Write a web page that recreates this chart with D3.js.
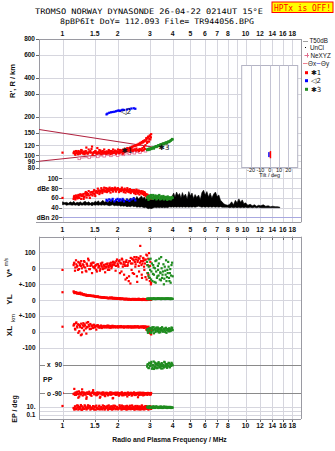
<!DOCTYPE html>
<html><head><meta charset="utf-8">
<script src="https://cdn.jsdelivr.net/npm/d3@7"></script>
<style>body{margin:0;background:#fff}svg{display:block}text{font-family:"Liberation Sans",Arial,sans-serif}</style>
</head><body>
<svg id="c" width="335" height="451"></svg>
<script>
// ---------- tick labels ----------
const freqTicksTop = [1,1.5,2,3,4,5,6,7,8,10,12,14,16,18];
const freqTicksMid = [1,1.5,2,3,4,5,6,7,8,9,10,12,14,16,18];
const freqTicksBot = [1,1.5,2,3,4,5,6,7,8,10,12,14,16,18];
const heightTicks = [800,600,400,300,200,150,120,100,90,80];
const dbTicks = [100,80,60,40,20];
const dbTickLabels = ["100","dBe 80","60","40","dBn 20"];
const tiltTicks = [-20,-10,0,10,20];
const tiltLines = [-20,-10,0,10,20];

// ---------- echo class 1 (red), first sweep ----------
const redF = [1.00,1.15,1.16,1.17,1.19,1.20,1.22,1.23,1.25,1.26,1.28,1.30,1.31,1.33,1.35,1.36,1.38,1.40,1.42,1.43,1.45,1.47,1.48,1.50,1.52,1.53,1.55,1.57,1.58,1.60,1.62,1.64,1.66,1.68,1.70,1.72,1.74,1.76,1.78,1.80,1.82,1.84,1.86,1.88,1.90,1.92,1.95,1.97,2.00,2.02,2.05,2.07,2.10,2.12,2.15,2.17,2.20,2.22,2.25,2.27,2.30,2.32,2.35,2.37,2.40,2.42,2.45,2.47,2.50,2.52,2.55,2.57,2.60,2.62,2.65,2.67,2.70,2.72,2.75,2.77,2.80,2.82,2.85,2.88,2.90,2.92,2.95,2.97,3.00,3.02,3.05];
const redH = [105,104,107,103,106,104,108,105,104,106, 105,103,107,104,115,105,104,106,108,105, 117,104,106,105,107,104,114,106,105,104, 107,105,108,104,106,105,107,104,106,105, 108,106,104,107,105,106,108,105,107,106, 108,105,109,107,110,106,111,108,112,109, 113,109,115,110,116,108,118,111,119,109, 120,110,121,108,122,111,124,109,126,110, 128,112,130,134,125,137,140,128,143,133,146];
const redA = [60,58,64,60,63,61,66,60,65,67, 64,68,62,69,66,70,68,65,71,67, 72,69,73,68,72,74,70,73,75,71, 74,76,73,77,75,74,77,76,78,75, 77,78,76,79,77,78,76,79,77,78, 76,77,78,76,77,75,77,76,74,76, 75,77,74,76,73,75,74,76,72,74, 73,75,72,74,73,72,74,71,73,70, 72,70,68,66,67,65,64,62,63,61,60];
const redV = [-10,20,35,-15,25,10,40,-5,30,15, -25,20,45,5,-20,25,60,-5,15,30, -30,10,35,0,20,-10,25,5,15,-15, 30,10,-5,20,0,25,5,30,15,-10, 20,35,10,25,40,20,-15,45,30,10, 50,35,-20,55,25,-40,15,40,-60,20, -80,45,-95,30,60,-30,50,70,10,55, -50,40,65,-20,35,75,20,-60,45,60, -10,30,55,-70,80,20,-40,95,-80,40,-90];
const redYL = [50,55,45,50,48,42,44,40,47,38, 40,35,37,33,30,28,32,30,27,29, 26,25,28,24,22,23,20,21,19,20, 18,17,18,15,16,14,15,13,12,13, 16,14,17,13,15,12,14,11,13,10, 12,9,11,8,10,7,9,6,8,5, 7,4,6,3,5,8,4,6,2,5, 3,7,4,2,6,3,5,1,4,6, 2,5,3,7,1,4,6,2,5,3,4];
const redXL = [33,40,50,20,60,35,-5,45,30,-20, 25,55,10,40,-10,30,62,35,50,20, 40,25,45,30,38,15,42,30,35,28, 40,25,33,38,30,36,28,34,40,30, 35,27,33,38,30,35,28,32,36,30, 34,29,33,31,35,28,32,30,34,29, 33,31,35,28,32,30,34,29,33,31, 35,30,34,29,32,30,33,31,35,29, 33,30,34,28,32,30,33,10,-5,20,-15];
const redPP = [-88,-95,-62,-100,-85,-92,-118,-78,-96,-88, -65,-84,-98,-90,-125,-86,-94,-80,-100,-92, -88,-70,-85,-95,-90,-102,-84,-96,-88,-118, -92,-86,-98,-90,-104,-87,-95,-89,-100,-92, -85,-97,-90,-122,-88,-94,-99,-86,-92,-101, -89,-95,-87,-103,-91,-96,-88,-99,-93,-86, -100,-90,-94,-88,-102,-92,-87,-96,-91,-99, -89,-94,-86,-101,-93,-88,-97,-90,-95,-87, -100,-92,-89,-96,-91,-88,-94,-90,-99,-92,-88];
const redEP = [15,5,2,12,3,20,2,9,4,25, 1.8,7,3,16,2.5,5,22,8,2,6, 4,14,3,9,2,18,5,3,11,2.2, 6,3,20,4,2,9,5,15,2.5,7, 3,12,2,6,18,4,2.4,10,5,3, 22,4,2,8,13,3,6,2.2,16,4, 3,9,2.6,5,20,3,7,2,12,4, 2.5,15,5,3,9,2,6,18,3,5, 2.2,10,4,14,3,6,2,8,4,12,3];

// ---------- echo class 1 (red), second sweep ----------
const red2F = [1.155,1.175,1.185,1.205,1.215,1.235,1.245,1.265,1.275,1.29, 1.305,1.32,1.34,1.355,1.37,1.39,1.41,1.44,1.46,1.49, 1.51,1.54,1.56,1.59,1.61,1.63,1.65,1.67,1.69,1.71, 1.73,1.75,1.77,1.79,1.81,1.83,1.85,1.87,1.89,1.91, 1.935,1.96,1.985,2.01,2.035,2.06,2.085,2.11,2.135,2.16, 2.185,2.21,2.235,2.26,2.285,2.31,2.335,2.36,2.385,2.41, 2.435,2.46,2.485,2.51,2.535,2.56,2.585,2.61,2.635,2.66, 2.685,2.71,2.735,2.76,2.79,2.81,2.84,2.87,2.91,2.94, 2.98,3.01,3.04];
const red2H = [106,101,108,105,102,107,103,110,109,104, 106,102,108,105,103,111,106,112,101,106, 108,103,104,110,109,102,106,104,111,106, 103,107,104,110,106,102,108,104,111,106, 109,103,107,111,104,110,107,109,103,111, 108,112,109,114,110,113,111,115,112,117, 110,118,111,119,113,121,110,123,112,125, 111,127,114,129,116,131,120,136,128,139, 134,141,138];
const red2A = [62,57,65,59,63,61,67,58,64,66, 58,63,72,61,66,74,60,72,65,76, 64,73,79,68,75,80,70,76,81,73, 80,72,79,74,81,71,77,80,73,78, 81,73,78,80,72,77,74,81,76,72, 79,71,76,80,73,72,78,70,75,74, 76,70,73,68,77,72,69,75,67,72, 70,71,68,72,66,69,65,63,66,62, 61,64,59];
const red2V = [30,5,50,15,-10,35,20,45,0,25, 10,40,-15,30,15,50,-5,20,35,5, 15,-20,25,10,-5,20,35,0,15,-25, 10,25,-10,5,30,15,0,20,40,25, 35,15,55,20,45,-30,30,60,10,40, 25,-70,50,15,35,-50,45,65,-10,30, 55,-35,40,25,70,-85,50,15,60,140, 45,-40,30,65,10,50,-55,85,-30,60, -60,15,-100];
const red2YL = [52,45,49,43,46,41,45,38,42,36, 34,31,35,29,32,27,30,26,28,24, 23,21,24,19,20,17,19,16,18,15, 14,16,13,15,12,14,11,13,10,12, 9,11,8,10,7,12,6,9,8,5, 7,4,9,6,3,8,5,2,7,4, 6,3,8,5,2,7,4,9,3,5, 2,6,4,8,3,5,1,6,4,7, 3,5,2];
const red2XL = [45,15,55,28,48,5,38,52,-15,42, 35,48,22,58,30,45,18,40,32,44, 30,36,42,28,34,38,31,35,29,37, 33,39,30,34,27,36,32,38,29,33, 36,31,34,28,35,32,37,30,33,29, 35,31,34,30,36,29,33,31,35,28, 34,30,36,29,33,31,35,28,32,30, 34,29,33,31,26,35,30,15,25,5, 18,-8,12];
const red2PP = [-92,-86,-100,-80,-95,-110,-88,-97,-83,-104, -91,-87,-99,-115,-85,-94,-90,-106,-82,-96, -89,-101,-93,-86,-112,-91,-98,-84,-95,-108, -90,-87,-103,-94,-88,-99,-85,-96,-120,-91, -87,-100,-93,-86,-105,-90,-97,-84,-94,-102, -88,-95,-91,-110,-86,-99,-93,-87,-104,-90, -96,-85,-101,-92,-88,-97,-115,-90,-94,-86, -99,-91,-87,-103,-93,-89,-96,-90,-100,-88, -94,-91,-97];
const red2EP = [4,10,2.5,6,18,3,8,2,13,5, 3,21,6,2.4,9,4,15,3,7,2, 11,5,2.6,17,4,8,2.2,6,14,3, 5,9,2,20,4,7,3,12,2.5,6, 16,3,8,2.3,5,11,4,19,2.7,6, 3,13,5,2.1,9,4,17,2.6,7,3, 10,4,2.4,15,6,3,8,2.2,12,5, 3,18,6,2.5,9,4,14,3,7,2.8, 5,11,3];

// ---------- echo class 2 (blue) ----------
const blueF = [1.74,1.76,1.80,1.84,1.88,1.92,1.96,2.00,2.03,2.06,2.10,2.13,2.17,2.25,2.32,2.38,2.45,2.50];
const blueH = [208,211,214,216,217,218,220,222,223,221,224,226,225,227,229,231,232,230];
const blueA = [56,54,57,55,58,53,56,58,54,57,55,58,53,56,54,57,59,55];

// ---------- echo class 3 (green), two sweeps ----------
const greenF = [2.90,2.93,2.96,3.00,3.03,3.06,3.10,3.13,3.16,3.20,3.23,3.26,3.30,3.33,3.36,3.40,3.43,3.46,3.50,3.54,3.58,3.62,3.66,3.70,3.74,3.78,3.82,3.86,3.90,3.94,4.00];
const greenH = [110,111,112,111,113,112,114,115,113,116,117,116,118,119,118,120,121,120,122,123,122,124,125,124,126,128,127,129,130,132,133];
const greenA = [60,63,58,65,61,64,59,66,62,60,64,57,63,61,65,59,62,58,63,60,57,61,59,62,56,60,58,61,57,59,60];
const greenV = [40,-30,10,-60,60,-20,-80,20,-40,0,-90,50,-50,-10,30,-70,-30,70,-60,-20,-100,10,-40,-80,-10,40,-60,-30,-90,20,-50];
const greenYL = [8,10,6,9,7,11,8,10,9,7,10,8,9,11,8,10,9,7,10,9,8,10,9,11,8,10,9,7,10,9,8];
const greenXL = [10,-5,20,5,25,0,30,15,-8,20,10,28,5,18,-3,22,8,15,30,2,20,12,25,-5,18,10,22,5,15,28,12];
const greenPP = [80,95,70,100,85,110,75,90,65,105,80,95,70,88,100,78,92,68,98,84,74,106,90,80,96,86,102,76,92,104,88];
const greenEP = [10,6,12,8,5,9,6,11,7,5,9,12,6,8,5,10,7,6,9,5,11,7,6,8,5,9,6,7,8,5,6];
const green2F = [2.91,2.95,2.98,3.01,3.05,3.08,3.12,3.15,3.18,3.22,3.25,3.28,3.32,3.35,3.38,3.42,3.45,3.48,3.52,3.56,3.60,3.64,3.68,3.72,3.76,3.80,3.84,3.88,3.92,3.97];
const green2H = [112,110,113,112,114,113,115,114,116,117,118,117,119,120,119,121,122,121,123,124,123,125,126,125,127,127,128,130,131,134];
const green2A = [62,56,64,59,66,61,58,63,60,65,62,58,64,60,66,57,63,59,61,64,58,62,60,57,63,59,61,58,60,62];
const green2V = [20,-50,55,-10,-70,30,-35,5,-85,45,-20,-60,15,-45,60,-25,-75,0,-40,25,-65,-15,50,-55,-30,10,-80,-5,-45,35];
const green2YL = [9,7,11,8,10,6,9,12,8,10,7,9,11,8,10,9,7,11,8,10,9,7,10,8,11,9,8,10,7,9];
const green2XL = [18,2,25,12,-6,20,8,30,15,0,22,10,28,5,17,-2,24,12,6,20,14,0,26,10,18,4,22,15,8,25];
const green2PP = [92,72,104,84,98,66,88,112,78,95,70,100,86,108,74,94,82,102,68,90,110,80,96,72,86,104,76,94,84,98];
const green2EP = [8,5,11,7,6,9,5,12,7,6,10,8,5,9,7,6,11,5,8,7,9,6,10,5,8,7,6,9,5,7];

// ---------- noise amplitude band (black) [f, low dB, high dB] ----------
const noiseBand = [[1.00,46,52],[1.03,47,50],[1.05,45,51],[1.08,46,49],[1.10,46,52],[1.13,45,50],[1.15,46,53],[1.18,45,49],[1.20,46,51],[1.23,44,50],[1.25,46,52],[1.28,45,49],[1.30,46,51],[1.33,45,53],[1.36,46,50],[1.39,45,52],[1.42,46,49],[1.45,44,51],[1.48,46,50],[1.51,45,53],[1.54,46,51],[1.57,45,54],[1.60,46,50],[1.63,45,52],[1.66,46,55],[1.70,45,51],[1.73,46,53],[1.77,45,50],[1.80,44,54],[1.84,45,52],[1.88,46,56],[1.92,44,51],[1.96,45,54],[2.00,44,53],[2.04,45,57],[2.08,43,52],[2.12,44,55],[2.16,43,58],[2.20,44,54],[2.25,42,59],[2.30,43,55],[2.35,42,60],[2.40,44,56],[2.45,42,62],[2.50,43,57],[2.55,41,63],[2.60,42,58],[2.65,41,61],[2.70,42,64],[2.75,41,59],[2.80,40,62],[2.85,41,57],[2.90,39,60],[2.95,38,58],[3.00,39,61],[3.05,38,56],[3.10,39,59],[3.15,40,55],[3.20,41,60],[3.26,40,57],[3.32,41,61],[3.38,40,56],[3.44,41,60],[3.50,40,58],[3.56,41,62],[3.62,40,57],[3.68,41,60],[3.74,40,56],[3.80,41,59],[3.86,42,55],[3.92,41,60],[3.98,42,64],[4.05,41,70],[4.12,42,62],[4.20,41,72],[4.28,42,65],[4.36,41,69],[4.44,42,60],[4.52,41,71],[4.60,42,63],[4.70,41,68],[4.80,42,58],[4.90,41,73],[5.00,42,64],[5.10,41,70],[5.20,42,59],[5.30,41,67],[5.42,42,61],[5.54,43,66],[5.66,42,57],[5.78,41,71],[5.90,42,76],[6.02,41,66],[6.15,42,73],[6.28,41,62],[6.41,42,70],[6.55,41,60],[6.70,42,68],[6.85,41,72],[7.00,42,63],[7.15,41,66],[7.30,42,55],[7.45,41,52],[7.60,41,48],[7.80,41,46],[8.00,41,45],[8.20,40,47],[8.40,41,52],[8.60,40,46],[8.80,41,55],[9.00,40,50],[9.20,41,58],[9.40,40,51],[9.60,41,56],[9.80,40,48],[10.0,41,50],[10.3,40,45],[10.6,41,47],[10.9,40,44],[11.2,41,46],[11.5,40,43],[11.8,41,45],[12.1,40,44],[12.5,40,46],[12.9,40,43],[13.3,40,44],[13.7,40,42],[14.1,40,43],[14.5,40,42],[15.0,40,42],[15.4,40,41]];

// ---------- model lines in height panel ----------
const lineUpperF = [0.744,3.1];
const lineUpperH = [159,116];
const lineLowerF = [0.744,3.05];
const lineLowerH = [90,111];
const neF = [1.235,1.40,1.56,1.69,1.84,2.00,2.15,2.32,2.47,2.65,2.84];
const neH = [94.8,96.5,98.2,99.3,100,100.5,101.8,103.6,104.8,106,108.6];

// ---------- tilt bars [tiltLo, tiltHi, hLo, hHi] ----------
const tiltRed = [0,1.6,95,108];
const tiltBlue = [-1.6,0,97,106];

// ================= drawing =================
const svg = d3.select("#c");
const x = d3.scaleLog().domain([0.744,20.1]).range([39,301]);
const yH = d3.scaleLog().domain([77,800]).range([170,39]);
const yDb = d3.scaleLinear().domain([10,117.3]).range([222.3,170]);
const yV = d3.scaleLinear().domain([-100,100]).range([284.3,252.3]);
const yYL = d3.scaleLinear().domain([-100,100]).range([316,284.3]);
const yXL = d3.scaleLinear().domain([-100,100]).range([348,316]);
const yPP = d3.scaleLinear().domain([-90,90]).range([393.3,365]);
const yEP = d3.scaleLog().domain([0.1,10]).range([415,406.7]);
const xT = d3.scaleLinear().domain([-30,30]).range([241.7,297.7]);
const px = v => Math.round(v)+0.5;

const RED="#ff0000", BLUE="#0000ff", GREEN="#1f8c1f", GRID="#d6d6de", FRAME="#9a9aa2";

function hline(g,y,x1,x2,c,w){g.append("line").attr("x1",x1).attr("x2",x2).attr("y1",px(y)).attr("y2",px(y)).attr("stroke",c).attr("stroke-width",w||1);}
function vline(g,xx,y1,y2,c,w){g.append("line").attr("x1",px(xx)).attr("x2",px(xx)).attr("y1",y1).attr("y2",y2).attr("stroke",c).attr("stroke-width",w||1);}
function txt(g,s,xx,yy,opt){opt=opt||{};const t=g.append("text").attr("x",xx).attr("y",yy).text(s)
  .attr("font-size",opt.size||7).attr("fill",opt.fill||"#111").attr("text-anchor",opt.anchor||"start")
  .attr("font-weight",opt.weight||"bold");
  if(opt.family) t.style("font-family",opt.family);
  if(opt.rot) t.attr("transform",`rotate(-90,${xx},${yy})`);
  if(opt.len) t.attr("textLength",opt.len).attr("lengthAdjust","spacingAndGlyphs");
  return t;}

const grid = svg.append("g");
freqTicksMid.forEach(f=>vline(grid,x(f),39,222.3,GRID));
heightTicks.forEach(h=>{hline(grid,yH(h),39,301,GRID);hline(grid,yH(h),36,39,"#666");});
dbTicks.forEach((d,i)=>{hline(grid,yDb(d),62,301,i===4?"#a8a8e0":GRID);hline(grid,yDb(d),59,62,"#666");});
freqTicksBot.forEach(f=>{vline(grid,x(f),236.7,419,GRID);vline(grid,x(f),236.7,240,"#666");vline(grid,x(f),419,422,"#666");});
[100,0,-100].forEach(v=>hline(grid,yV(v),39,301,GRID));
[0,-100].forEach(v=>hline(grid,yYL(v),39,301,GRID));
[0,-100].forEach(v=>hline(grid,yXL(v),39,301,GRID));
[90,-90].forEach(v=>hline(grid,yPP(v),39,301,"#8a8a8a"));
[10,1,0.1].forEach(v=>hline(grid,yEP(v),39,301,GRID));

const fr = svg.append("g");
hline(fr,39,39,301,FRAME);
vline(fr,39,39,170,FRAME);
vline(fr,301,39,222.3,FRAME);
hline(fr,222.3,36,301,FRAME);
hline(fr,236.7,39,301,FRAME);
hline(fr,419,39,301,FRAME);
vline(fr,39,236.7,419,FRAME);
vline(fr,301,236.7,419,FRAME);

function dots(g,fs,vs,sc,color,s){s=s||2.2;
  g.selectAll(null).data(fs.map((f,i)=>[f,vs[i]]).filter(d=>d[1]!==undefined)).join("rect")
   .attr("x",d=>x(d[0])-s/2).attr("y",d=>sc(d[1])-s/2).attr("width",s).attr("height",s).attr("fill",color);}

// ---- height panel data
svg.append("clipPath").attr("id","ct").append("rect").attr("x",39).attr("y",39).attr("width",262).attr("height",131);
const gTop = svg.append("g").attr("clip-path","url(#ct)");
const lineGen = (fs,hs)=>d3.line().x((d,i)=>x(fs[i])).y((d,i)=>yH(hs[i]))(fs);
gTop.append("path").attr("d",lineGen(lineUpperF,lineUpperH)).attr("stroke","#b0223f").attr("fill","none").attr("stroke-width",1.1);
gTop.append("path").attr("d",lineGen(lineLowerF,lineLowerH)).attr("stroke","#b0223f").attr("fill","none").attr("stroke-width",1.1);
gTop.append("path").attr("d",lineGen(neF,neH)).attr("stroke","#e889a4").attr("fill","none").attr("stroke-width",1);
gTop.selectAll(".ne").data(neF).join("rect").attr("x",(d)=>x(d)-1.3).attr("y",(d,i)=>yH(neH[i])-1.3).attr("width",2.6).attr("height",2.6).attr("fill","#fff").attr("stroke","#e06890").attr("stroke-width",0.8);
dots(gTop,blueF,blueH,yH,BLUE);
dots(gTop,redF,redH,yH,RED);
dots(gTop,red2F,red2H,yH,RED);
dots(gTop,greenF,greenH,yH,GREEN);
dots(gTop,green2F,green2H,yH,GREEN);
txt(gTop,"◁2",x(2.08),yH(210),{size:7.5,weight:"normal",family:"DejaVu Sans"});
txt(gTop,"✱1",x(2.1),yH(104),{size:7.5,weight:"normal",family:"DejaVu Sans"});
txt(gTop,"✱3",x(3.35),yH(110),{size:7.5,weight:"normal",family:"DejaVu Sans"});

// tilt inset
const gIn = svg.append("g");
gIn.append("rect").attr("x",xT(-30)).attr("y",65.5).attr("width",xT(30)-xT(-30)).attr("height",102).attr("fill","#fff").attr("stroke","#b4b4c4");
tiltLines.forEach(t=>vline(gIn,xT(t),65.5,167.5,"#c4c4d4"));
gIn.append("rect").attr("x",xT(tiltBlue[0])).attr("width",xT(tiltBlue[1])-xT(tiltBlue[0])).attr("y",yH(tiltBlue[3])).attr("height",yH(tiltBlue[2])-yH(tiltBlue[3])).attr("fill",BLUE);
gIn.append("rect").attr("x",xT(tiltRed[0])).attr("width",xT(tiltRed[1])-xT(tiltRed[0])).attr("y",yH(tiltRed[3])).attr("height",yH(tiltRed[2])-yH(tiltRed[3])).attr("fill",RED);
tiltTicks.forEach(t=>txt(gIn,String(t),xT(t),172,{size:5.5,anchor:"middle",weight:"normal"}));
txt(gIn,"Tilt / deg",xT(0),177,{size:5.5,anchor:"middle",weight:"normal"});

// ---- dB panel
const gDb = svg.append("g");
gDb.append("path").datum(noiseBand).attr("d",d3.area().x(d=>x(d[0])).y0(d=>yDb(d[1])).y1(d=>yDb(d[2]))).attr("fill","#000").attr("stroke","#000").attr("stroke-width",0.6);
dots(gDb,redF,redA,yDb,RED);
dots(gDb,red2F,red2A,yDb,RED);
dots(gDb,blueF,blueA,yDb,BLUE);
dots(gDb,greenF,greenA,yDb,GREEN);
dots(gDb,green2F,green2A,yDb,GREEN);

// ---- lower panels
const gL = svg.append("g");
[[redV,yV],[redYL,yYL],[redXL,yXL],[redPP,yPP],[redEP,yEP]].forEach(([a,s])=>dots(gL,redF,a,s,RED));
[[red2V,yV],[red2YL,yYL],[red2XL,yXL],[red2PP,yPP],[red2EP,yEP]].forEach(([a,s])=>dots(gL,red2F,a,s,RED));
[[greenV,yV],[greenYL,yYL],[greenXL,yXL],[greenPP,yPP],[greenEP,yEP]].forEach(([a,s])=>dots(gL,greenF,a,s,GREEN));
[[green2V,yV],[green2YL,yYL],[green2XL,yXL],[green2PP,yPP],[green2EP,yEP]].forEach(([a,s])=>dots(gL,green2F,a,s,GREEN));

// ---- labels
const gT = svg.append("g");
heightTicks.forEach(h=>txt(gT,String(h),35,yH(h)+2.4,{size:6.5,anchor:"end"}));
dbTicks.forEach((d,i)=>txt(gT,dbTickLabels[i],58.5,yDb(d)+2.4,{size:6.5,anchor:"end"}));
freqTicksTop.forEach(f=>txt(gT,String(f),x(f),35.8,{size:6.8,anchor:"middle"}));
freqTicksMid.forEach(f=>txt(gT,String(f),x(f),231.8,{size:6.8,anchor:"middle"}));
freqTicksBot.forEach(f=>txt(gT,String(f),x(f),427.5,{size:6.8,anchor:"middle"}));
const lowLabels = [["100",yV(100)],["0",yV(0)],["+-100",yV(-100)],["0",yYL(0)],["+-100",yYL(-100)],["0",yXL(0)],["-100",yXL(-100)],["10.",yEP(10)],["0.1",yEP(0.1)]];
lowLabels.forEach(([s,yy])=>txt(gT,s,35.5,yy+2.4,{size:6.5,anchor:"end"}));
[[90,"x","90"],[-90,"o","-90"]].forEach(([v,a,b])=>{
  gT.append("rect").attr("x",45).attr("y",yPP(v)-3.5).attr("width",18).attr("height",7).attr("fill","#fff");
  txt(gT,a,47,yPP(v)+2.4,{size:6.5});
  txt(gT,b,62,yPP(v)+2.4,{size:6.5,anchor:"end"});});
txt(gT,"PP",43,382,{size:7});
txt(gT,"R', R / km",14.5,81,{size:7.5,anchor:"middle",rot:true});
txt(gT,"V*",11.5,273,{size:8,anchor:"middle",rot:true});
txt(gT,"m/s",8,262,{size:5,anchor:"middle",rot:true,weight:"normal"});
txt(gT,"YL",11.5,299.5,{size:8,anchor:"middle",rot:true});
txt(gT,"km",15,318,{size:6,anchor:"middle",rot:true,weight:"normal"});
txt(gT,"XL",11.5,331,{size:8,anchor:"middle",rot:true});
txt(gT,"EP / deg",16.5,409,{size:7,anchor:"middle",rot:true});
txt(gT,"Radio and Plasma Frequency / MHz",169.5,441.5,{size:6.8,anchor:"middle"});

// title
const mono = '"DejaVu Sans Mono",monospace';
txt(gT,"TROMSO NORWAY   DYNASONDE 26-04-22 0214UT 15°E",35,14.3,{size:7.6,family:mono,weight:"normal",fill:"#000",len:228});
txt(gT,"8pBP6It DoY= 112.093 File= TR944056.BPG",60,23.6,{size:7.6,family:mono,weight:"normal",fill:"#000",len:194});
gT.append("rect").attr("x",272).attr("y",2).attr("width",61).attr("height",10.5).attr("fill","#ffff00").attr("stroke","#ff0000");
txt(gT,"HPTx is OFF!",274,10.6,{size:8,family:mono,weight:"normal",fill:"#ff0000",len:57});

// legend
const gLg = svg.append("g");
hline(gLg,41,303,308,"#a0a0a0");
txt(gLg,"T50dB",309.5,43.3,{size:6.3,weight:"normal"});
gLg.append("rect").attr("x",305).attr("y",47).attr("width",1).attr("height",1).attr("fill","#000");
txt(gLg,"UnCl",310,49.6,{size:6.3,weight:"normal"});
hline(gLg,55.3,304.5,309,"#e07090");vline(gLg,306.7,53,57.5,"#e07090");
txt(gLg,"NeXYZ",310.5,57.6,{size:6.3,weight:"normal"});
hline(gLg,63.3,303,307.5,"#f08090");
txt(gLg,"Θx",308,65.6,{size:6.3,weight:"normal"});
hline(gLg,63.3,316.5,320.5,"#8080e0");
txt(gLg,"Θy",321,65.6,{size:6.3,weight:"normal"});
[[RED,"✱1",72.7],[BLUE,"◁2",80.7],[GREEN,"✱3",89.3]].forEach(([c,s,yy])=>{
  gLg.append("rect").attr("x",305).attr("y",yy-1.5).attr("width",3).attr("height",3).attr("fill",c);
  txt(gLg,s,311,yy+2.5,{size:7,weight:"normal",family:"DejaVu Sans"});});
</script>
</body></html>
